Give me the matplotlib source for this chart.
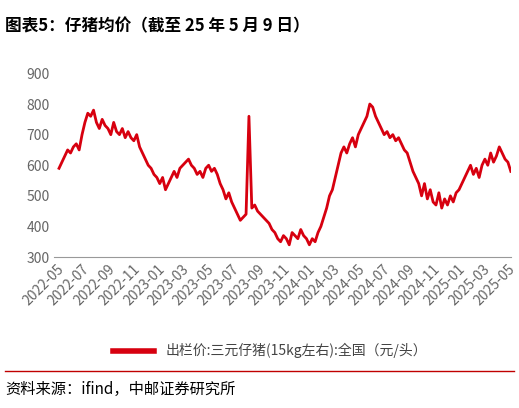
import matplotlib
matplotlib.use("Agg")
import matplotlib.pyplot as plt
import matplotlib.dates as mdates
import pandas as pd

plt.rcParams['font.family'] = ['Noto Sans CJK SC', 'DejaVu Sans']

values = [590, 610, 630, 650,
          640, 660, 670, 650,
          700, 740, 770, 760, 780,
          740, 720, 750, 730,
          720, 700, 740, 710,
          700, 720, 690, 710, 690,
          680, 700, 660, 640,
          620, 600, 590, 570, 560,
          540, 560, 520, 540,
          560, 580, 560, 590,
          600, 610, 620, 600, 590,
          570, 580, 560, 590,
          600, 580, 590, 570,
          540, 520, 490, 510, 480,
          460, 440, 420, 430,
          440, 760, 460, 470, 450,
          440, 430, 420, 410,
          390, 380, 360, 350, 370,
          360, 340, 380, 370,
          360, 390, 370, 360,
          340, 360, 350, 380, 400,
          430, 460, 500, 520,
          560, 600, 640, 660,
          640, 670, 690, 660,
          700, 720, 740, 760, 800,
          790, 760, 740, 720,
          700, 710, 690, 700,
          680, 690, 670, 650, 640,
          610, 580, 560, 540,
          500, 540, 490, 520, 480,
          470, 510, 460, 490,
          470, 500, 480, 510,
          520, 540, 560, 580, 600,
          570, 590, 560, 600,
          620, 600, 640, 610,
          630, 660, 640, 620,
          610, 580]
dates = pd.date_range("2022-05-06", periods=len(values), freq="7D")
tick_labels = pd.date_range("2022-05-01", "2025-05-01", freq="2MS")
series_name = "出栏价:三元仔猪(15kg左右):全国（元/头）"

fig = plt.figure(figsize=(5.19, 4.08), dpi=100)
ax = fig.add_axes([0.105, 0.37, 0.88, 0.45])
line, = ax.plot(dates, values, color="#d7000f", lw=2)
ax.set_ylim(300, 900)
ax.set_yticks(range(300, 901, 100))
ax.set_xlim(pd.Timestamp("2022-04-25"), pd.Timestamp("2025-05-10"))
ax.set_xticks(tick_labels)
ax.xaxis.set_major_formatter(mdates.DateFormatter("%Y-%m"))
for lbl in ax.get_xticklabels():
    lbl.set_rotation(45); lbl.set_ha("right"); lbl.set_rotation_mode("anchor")
ax.tick_params(labelsize=10, colors="#666666", length=0)
for s in ax.spines.values():
    s.set_visible(False)
ax.spines['bottom'].set_visible(True); ax.spines['bottom'].set_color("#999999")
leg = fig.legend([line], [series_name], loc="center", bbox_to_anchor=(0.52, 0.14), frameon=False,
                 fontsize=10, labelcolor="#444444", handlelength=3)
for t in leg.get_lines():
    t.set_linewidth(4)

fig.text(0.01, 0.935, "图表5：仔猪均价（截至 25 年 5 月 9 日）", fontsize=12, fontweight="bold", va="center")
fig.add_artist(plt.Line2D([0.01, 0.99], [0.09, 0.09], color="#c00000", lw=1))
fig.text(0.01, 0.045, "资料来源：ifind，中邮证券研究所", fontsize=11, va="center")
fig.savefig("out.png", dpi=100)
